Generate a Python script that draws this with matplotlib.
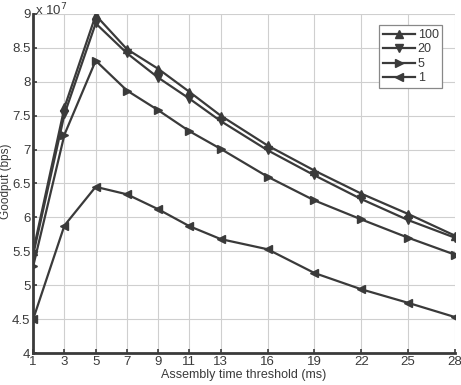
import numpy as np
import matplotlib
matplotlib.use("Agg")
import matplotlib.pyplot as plt

# Assembly time threshold (ms)
thresholds = [1, 3, 5, 7, 9, 11, 13, 16, 19, 22, 25, 28]

# Goodput (x 10^7 bps), one list per series
goodput_100 = [5.50, 7.62, 8.98, 8.48, 8.19, 7.85, 7.50, 7.06, 6.69, 6.35, 6.05, 5.73]
goodput_20 = [5.45, 7.52, 8.86, 8.42, 8.06, 7.75, 7.42, 6.99, 6.62, 6.27, 5.96, 5.70]
goodput_5 = [5.28, 7.22, 8.31, 7.87, 7.58, 7.27, 7.01, 6.60, 6.25, 5.97, 5.70, 5.45]
goodput_1 = [4.50, 5.88, 6.45, 6.34, 6.12, 5.87, 5.68, 5.53, 5.18, 4.94, 4.74, 4.53]

series = [
    ("100", goodput_100, "^"),
    ("20", goodput_20, "v"),
    ("5", goodput_5, ">"),
    ("1", goodput_1, "<"),
]

ink = "#3a3a3a"
plt.rcParams["font.family"] = "Liberation Sans"

fig = plt.figure(figsize=(4.61, 3.85), dpi=100)
ax = fig.add_axes([0.072, 0.083, 0.915, 0.881])

for label, vals, mk in series:
    ax.plot(thresholds, vals, color=ink, lw=1.6, marker=mk, ms=5.5,
            label=label)

ax.set_xlim(1, 28)
ax.set_ylim(4, 9)
ax.set_xticks(thresholds)
ax.set_yticks(np.arange(4, 9.01, 0.5))
ax.set_yticklabels(["4", "4.5", "5", "5.5", "6", "6.5", "7", "7.5", "8", "8.5", "9"])
ax.grid(True, color="#cfcfcf", lw=0.8)
ax.tick_params(colors=ink, labelsize=9.5, direction="in", length=3, width=1.2, pad=2)
for s in ("top", "right"):
    ax.spines[s].set_visible(False)
for s in ("left", "bottom"):
    ax.spines[s].set_color(ink)
    ax.spines[s].set_linewidth(2)

ax.set_xlabel("Assembly time threshold (ms)", color=ink, fontsize=9, labelpad=1)
fig.text(0.012, 0.53, "Goodput (bps)", rotation=90, color=ink, fontsize=8.5,
         ha="center", va="center")
fig.text(0.076, 0.975, r"x 10$^7$", color=ink, fontsize=9.5, ha="left", va="center")

leg = ax.legend(loc="upper right", bbox_to_anchor=(0.985, 0.985), fontsize=9,
                handlelength=2.6, handletextpad=0.2, borderpad=0.3,
                labelspacing=0.2, fancybox=False, framealpha=1)
leg.get_frame().set_edgecolor("#888888")
leg.get_frame().set_linewidth(0.9)
for t in leg.get_texts():
    t.set_color(ink)

fig.savefig("out.png", dpi=100)
